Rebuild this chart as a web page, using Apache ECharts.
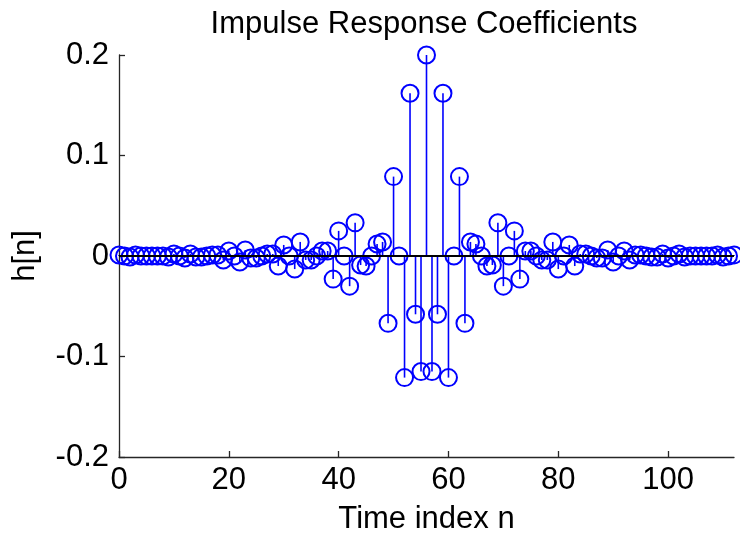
<!DOCTYPE html>
<html>
<head>
<meta charset="utf-8">
<script src="https://cdn.jsdelivr.net/npm/echarts@6/dist/echarts.min.js"></script>
<style>
html,body{margin:0;padding:0;background:#fff;}
#chart{width:740px;height:540px;}
</style>
</head>
<body>
<div id="chart"></div>
<script>
const titleText = 'Impulse Response Coefficients';
const xLabel = 'Time index n';
const yLabel = 'h[n]';
const xTicks = [0, 20, 40, 60, 80, 100];
const yTicks = [-0.2, -0.1, 0, 0.1, 0.2];
const xRange = [0, 112];
const yRange = [-0.2, 0.2];
// h[n] for n = 0 .. 112
const hValues = [
  0.001, 0, -0.001, 0.001, 0, 0, 0, 0, 0, -0.001,
  0.002, 0, -0.002, 0.002, -0.001, -0.001, 0, 0.001, 0.001, -0.004,
  0.005, 0, -0.006, 0.006, -0.002, -0.002, 0, 0.002, 0.002, -0.010,
  0.011, 0, -0.013, 0.014, -0.004, -0.004, 0, 0.005, 0.005, -0.023,
  0.025, 0, -0.030, 0.033, -0.009, -0.010, 0, 0.012, 0.014, -0.067,
  0.079, 0, -0.121, 0.162, -0.058, -0.115, 0.200, -0.115, -0.058, 0.162,
  -0.121, 0, 0.079, -0.067, 0.014, 0.012, 0, -0.010, -0.009, 0.033,
  -0.030, 0, 0.025, -0.023, 0.005, 0.005, 0, -0.004, -0.004, 0.014,
  -0.013, 0, 0.011, -0.010, 0.002, 0.002, 0, -0.002, -0.002, 0.006,
  -0.006, 0, 0.005, -0.004, 0.001, 0.001, 0, -0.001, -0.001, 0.002,
  -0.002, 0, 0.002, -0.001, 0, 0, 0, 0, 0, 0.001,
  -0.001, 0, 0.001
];

const points = hValues.map((v, i) => [i, v]);
const FONT = 'Liberation Sans, Arial, Helvetica, sans-serif';
const BLUE = '#0000ff';
const AXIS = '#262626';
const FS = 31;

const chart = echarts.init(document.getElementById('chart'), null, {renderer: 'canvas'});
chart.setOption({
  backgroundColor: '#ffffff',
  animation: false,
  title: {
    text: titleText,
    left: 419, top: 4, textAlign: 'center',
    textStyle: {fontFamily: FONT, fontSize: FS, fontWeight: 'normal', color: '#000'}
  },
  grid: {left: 119, right: 6, top: 55, bottom: 81, containLabel: false},
  xAxis: {
    type: 'value', min: xRange[0], max: xRange[1],
    name: xLabel, nameLocation: 'middle', nameGap: 47,
    nameTextStyle: {fontFamily: FONT, fontSize: FS, color: '#000'},
    axisLine: {show: true, onZero: false, lineStyle: {color: AXIS, width: 1.3}},
    axisTick: {show: true, inside: true, length: 6, customValues: xTicks, lineStyle: {color: AXIS, width: 1.3}},
    axisLabel: {show: true, customValues: xTicks, margin: 8, fontFamily: FONT, fontSize: FS, color: '#000'},
    splitLine: {show: false}
  },
  yAxis: {
    type: 'value', min: yRange[0], max: yRange[1], interval: 0.1,
    name: yLabel, nameLocation: 'middle', nameGap: 78, nameRotate: 90,
    nameTextStyle: {fontFamily: FONT, fontSize: FS, color: '#000'},
    axisLine: {show: true, onZero: false, lineStyle: {color: AXIS, width: 1.3}},
    axisTick: {show: true, inside: true, length: 6, customValues: yTicks, lineStyle: {color: AXIS, width: 1.3}},
    axisLabel: {show: true, customValues: yTicks, margin: 10, fontFamily: FONT, fontSize: FS, color: '#000',
      formatter: v => String(Math.round(v * 10) / 10)},
    splitLine: {show: false}
  },
  series: [
    {
      type: 'custom',
      name: 'stems',
      data: points,
      clip: false,
      z: 2,
      renderItem: function (params, api) {
        const p0 = api.coord([api.value(0), 0]);
        const p1 = api.coord([api.value(0), api.value(1)]);
        return {
          type: 'line',
          shape: {x1: p0[0], y1: p0[1], x2: p1[0], y2: p1[1]},
          style: {stroke: BLUE, lineWidth: 1.6}
        };
      }
    },
    {
      type: 'scatter',
      name: 'h',
      data: points,
      symbol: 'circle',
      symbolSize: 17,
      z: 3,
      itemStyle: {color: 'rgba(0,0,0,0)', borderColor: BLUE, borderWidth: 2, opacity: 1},
      emphasis: {disabled: true}
    },
    {
      type: 'line',
      name: 'baseline',
      data: [[xRange[0], 0], [xRange[1], 0]],
      symbol: 'none',
      z: 4,
      lineStyle: {color: '#000', width: 1.8},
      emphasis: {disabled: true}
    }
  ]
});
</script>
</body>
</html>
